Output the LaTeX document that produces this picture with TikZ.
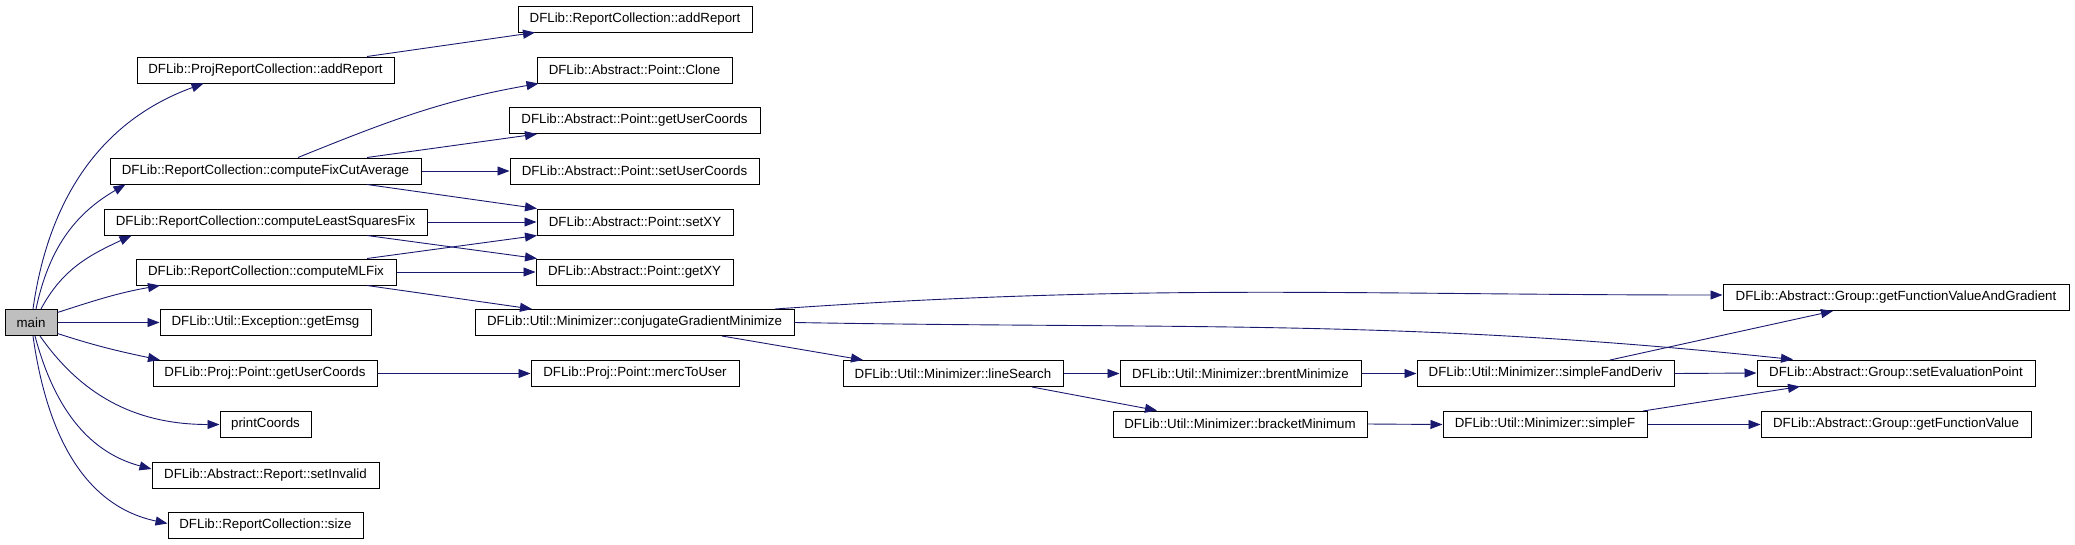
\documentclass[tikz,border=0pt]{standalone}
\usepackage{fontspec}
\setmainfont{Liberation Sans}
\usepackage{tikz}
\usetikzlibrary{arrows.meta}
\definecolor{callblue}{HTML}{191970}
\definecolor{maingray}{HTML}{BFBFBF}

\begin{document}
\begin{tikzpicture}[x=1pt, y=1pt, >={Triangle[length=12pt,width=9pt]}]
\tikzstyle{fn}=[draw, line width=1pt, minimum height=26pt, inner sep=0pt, font=\fontsize{13.3}{16}\selectfont]
\tikzstyle{call}=[->, color=callblue, line width=0.9pt]
\useasboundingbox (0,0) rectangle (2075,-544);
\node[fn, fill=maingray, minimum width=52pt] (main) at (31,-322.5) {main};
\node[fn, minimum width=257pt] (prcAdd) at (265.5,-70) {DFLib::ProjReportCollection::addReport};
\node[fn, minimum width=311pt] (rcFixCut) at (265.5,-171) {DFLib::ReportCollection::computeFixCutAverage};
\node[fn, minimum width=323pt] (rcLSF) at (265.5,-222) {DFLib::ReportCollection::computeLeastSquaresFix};
\node[fn, minimum width=260pt] (rcML) at (266,-272) {DFLib::ReportCollection::computeMLFix};
\node[fn, minimum width=211pt] (exEmsg) at (265.5,-322.5) {DFLib::Util::Exception::getEmsg};
\node[fn, minimum width=224pt] (projUC) at (265,-373.5) {DFLib::Proj::Point::getUserCoords};
\node[fn, minimum width=91pt] (printC) at (265.5,-424.5) {printCoords};
\node[fn, minimum width=227pt] (setInv) at (265.5,-475) {DFLib::Abstract::Report::setInvalid};
\node[fn, minimum width=195pt] (rcSize) at (265.5,-525.5) {DFLib::ReportCollection::size};
\node[fn, minimum width=234pt] (rcAdd) at (635,-19) {DFLib::ReportCollection::addReport};
\node[fn, minimum width=195pt] (ptClone) at (634.5,-70) {DFLib::Abstract::Point::Clone};
\node[fn, minimum width=251pt] (ptGetUC) at (634.5,-120.5) {DFLib::Abstract::Point::getUserCoords};
\node[fn, minimum width=249pt] (ptSetUC) at (634.5,-171) {DFLib::Abstract::Point::setUserCoords};
\node[fn, minimum width=196pt] (ptSetXY) at (635,-222) {DFLib::Abstract::Point::setXY};
\node[fn, minimum width=197pt] (ptGetXY) at (634.5,-272) {DFLib::Abstract::Point::getXY};
\node[fn, minimum width=319pt] (cgMin) at (634.5,-322.5) {DFLib::Util::Minimizer::conjugateGradientMinimize};
\node[fn, minimum width=208pt] (mercU) at (635,-373.5) {DFLib::Proj::Point::mercToUser};
\node[fn, minimum width=220pt] (lineS) at (953,-373.5) {DFLib::Util::Minimizer::lineSearch};
\node[fn, minimum width=241pt] (brentM) at (1240.5,-373.5) {DFLib::Util::Minimizer::brentMinimize};
\node[fn, minimum width=254pt] (bracketM) at (1240,-424) {DFLib::Util::Minimizer::bracketMinimum};
\node[fn, minimum width=257pt] (sFD) at (1545.5,-373.5) {DFLib::Util::Minimizer::simpleFandDeriv};
\node[fn, minimum width=204pt] (sF) at (1545,-424.5) {DFLib::Util::Minimizer::simpleF};
\node[fn, minimum width=346pt] (gFVG) at (1896,-297.5) {DFLib::Abstract::Group::getFunctionValueAndGradient};
\node[fn, minimum width=278pt] (setEval) at (1896,-373) {DFLib::Abstract::Group::setEvaluationPoint};
\node[fn, minimum width=270pt] (gFV) at (1896,-424.5) {DFLib::Abstract::Group::getFunctionValue};
\draw[call] ([xshift=2pt]main.north) to[out=82,in=-160] ([xshift=-62pt]prcAdd.south);
\draw[call] ([xshift=5pt]main.north) to[out=78,in=-150] ([xshift=-140pt]rcFixCut.south);
\draw[call] ([xshift=10pt]main.north) to[out=62,in=-155] ([xshift=-134pt]rcLSF.south);
\draw[call] ([yshift=10pt]main.east) to[out=18,in=-170] ([xshift=-106pt]rcML.south);
\draw[call] (main.east) -- (exEmsg.west);
\draw[call] ([yshift=-11pt]main.east) to[out=-18,in=168] ([xshift=-105pt]projUC.north);
\draw[call] ([xshift=9pt]main.south) to[out=-55,in=180] (printC.west);
\draw[call] ([xshift=4pt]main.south) to[out=-75,in=165] ([yshift=6pt]setInv.west);
\draw[call] ([xshift=2pt]main.south) to[out=-82,in=168] ([yshift=2pt]rcSize.west);
\draw[call] ([xshift=101.5pt]prcAdd.north) -- ([xshift=-100pt]rcAdd.south);
\draw[call] ([xshift=32.5pt]rcFixCut.north) to[out=22,in=-170] ([xshift=2pt]ptClone.south west);
\draw[call] ([xshift=101.5pt]rcFixCut.north) -- ([xshift=-97.5pt]ptGetUC.south);
\draw[call] (rcFixCut.east) -- (ptSetUC.west);
\draw[call] ([xshift=101.5pt]rcFixCut.south) -- ([xshift=-98pt]ptSetXY.north);
\draw[call] (rcLSF.east) -- (ptSetXY.west);
\draw[call] ([xshift=101.5pt]rcLSF.south) -- ([xshift=-97.5pt]ptGetXY.north);
\draw[call] ([xshift=101pt]rcML.north) -- ([xshift=-98pt]ptSetXY.south);
\draw[call] (rcML.east) -- (ptGetXY.west);
\draw[call] ([xshift=101pt]rcML.south) -- ([xshift=-102.5pt]cgMin.north);
\draw[call] (projUC.east) -- (mercU.west);
\draw[call] ([xshift=140.5pt]cgMin.north) to[out=4,in=180] ([yshift=2.5pt]gFVG.west);
\draw[call] (cgMin.east) to[out=-1,in=174] ([xshift=-103pt]setEval.north);
\draw[call] ([xshift=87.5pt]cgMin.south) -- ([xshift=-90pt]lineS.north);
\draw[call] (lineS.east) -- (brentM.west);
\draw[call] ([xshift=79pt]lineS.south) -- ([xshift=-83pt]bracketM.north);
\draw[call] (brentM.east) -- (sFD.west);
\draw[call] (bracketM.east) -- (sF.west);
\draw[call] ([xshift=64.5pt]sFD.north) -- ([xshift=-63pt]gFVG.south);
\draw[call] (sFD.east) -- (setEval.west);
\draw[call] ([xshift=98pt]sF.north) -- ([xshift=-96pt]setEval.south);
\draw[call] (sF.east) -- (gFV.west);
\end{tikzpicture}
\end{document}
